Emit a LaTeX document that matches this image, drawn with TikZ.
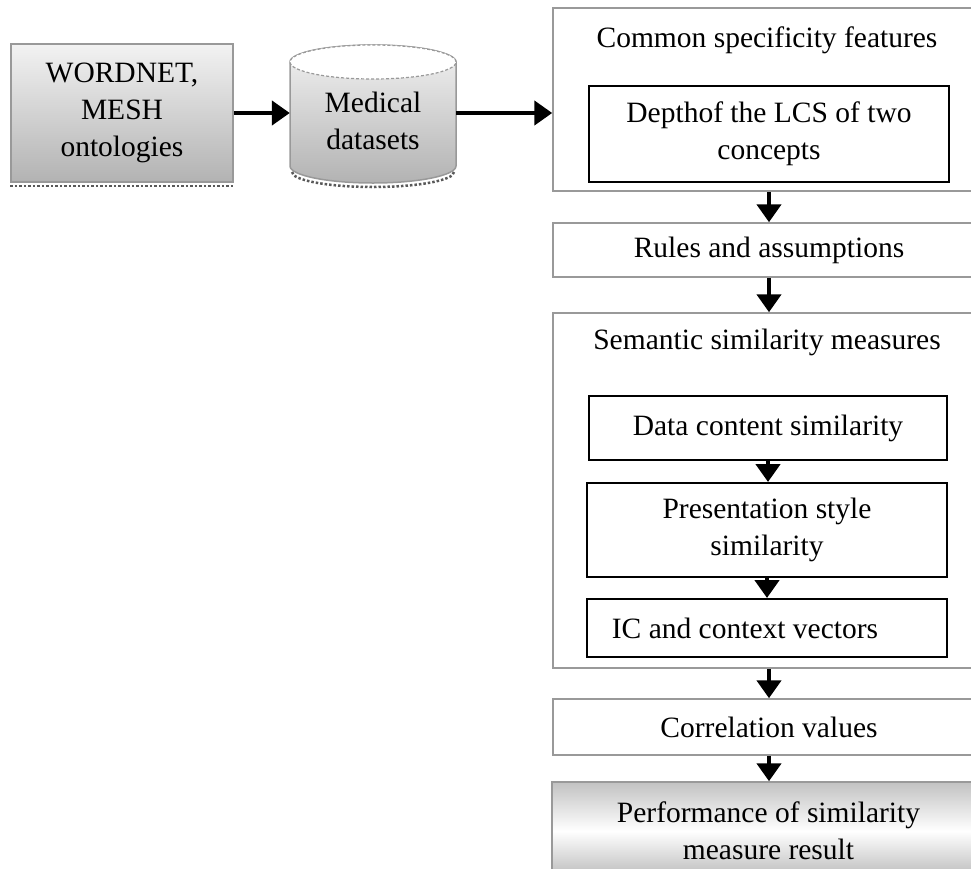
\documentclass[tikz,border=0pt]{standalone}
\usepackage{fontspec}
\setmainfont{Liberation Serif}
\usetikzlibrary{arrows.meta,calc}
\begin{document}
\begin{tikzpicture}[x=1pt,y=-1pt,
  txt/.style={font=\fontsize{29.5}{37}\selectfont, align=center},
  outerbox/.style={draw=black!40, line width=1.5pt, rectangle, inner sep=0pt},
  innerbox/.style={draw=black, line width=2pt, rectangle, inner sep=0pt, txt},
  shadebox/.style={draw=black!40, line width=1.5pt, rectangle, inner sep=0pt, txt,
     top color=black!5, bottom color=black!30},
  arr/.style={line width=4.5pt, -{Triangle[length=18pt,width=24pt]}},
  shadowline/.style={line width=2.5pt, dotted, black!65},
]
\useasboundingbox (0,0) rectangle (971,868);

% left: WORDNET box
\node[shadebox, minimum width=222pt, minimum height=138pt] (wn) at (122,113)
  {WORDNET,\\MESH\\ontologies};
\draw[shadowline] ([yshift=-3pt]wn.south west) -- ([yshift=-3pt]wn.south east);

% cylinder
\path[top color=black!5, bottom color=black!30, draw=black!40, line width=1.5pt]
  (290,62) -- (290,166) arc[start angle=180, end angle=360, x radius=83pt, y radius=17pt]
  -- (456,62) arc[start angle=0, end angle=180, x radius=83pt, y radius=17pt] -- cycle;
\draw[fill=white, draw=black!40, line width=1.2pt, densely dashed] (373,62) ellipse[x radius=83pt, y radius=17pt];
\draw[shadowline] (292,172) arc[start angle=180, end angle=360, x radius=81pt, y radius=15pt];
\node[txt, minimum width=166pt, minimum height=80pt, inner sep=0pt] (med) at (373,121) {Medical\\datasets};

% right column
\node[outerbox, minimum width=432pt, minimum height=183pt] (csf) at (769,99.5) {};
\node[txt] (csft) at (767,40) {Common specificity features};
\node[innerbox, minimum width=360pt, minimum height=96pt] (depth) at (769,134)
  {Depthof the LCS of two\\concepts};

\node[outerbox, txt, minimum width=432pt, minimum height=54pt] (rules) at (769,250)
  {Rules and assumptions};

\node[outerbox, minimum width=432pt, minimum height=355pt] (sem) at (769,490.5) {};
\node[txt] (semt) at (767,342) {Semantic similarity measures};
\node[innerbox, minimum width=358pt, minimum height=64pt] (dcs) at (768,428)
  {Data content similarity};
\node[innerbox, minimum width=360pt, minimum height=94pt] (pss) at (767,530)
  {Presentation style\\similarity};
\node[innerbox, minimum width=360pt, minimum height=58pt] (ic) at (767,628) {};
\node[txt] (ict) at (745,628) {IC and context vectors};

\node[outerbox, txt, minimum width=432pt, minimum height=56pt] (corr) at (769,727)
  {Correlation values};

\node[shadebox, minimum width=433pt, minimum height=98pt,
      top color=black!24, bottom color=black!28, middle color=white] (perf) at (768.5,831)
  {Performance of similarity\\measure result};

% connectors
\draw[arr] (wn.east) -- (wn.east -| med.west);
\draw[arr] (wn.east -| med.east) -- (wn.east -| csf.west);
\draw[arr] (csf.south) -- (rules.north);
\draw[arr] (rules.south) -- (sem.north);
\draw[arr] (dcs.south) -- (dcs.south |- pss.north);
\draw[arr] (pss.south) -- (pss.south |- ic.north);
\draw[arr] (sem.south) -- (corr.north);
\draw[arr] (corr.south) -- (corr.south |- perf.north);
\end{tikzpicture}
\end{document}
